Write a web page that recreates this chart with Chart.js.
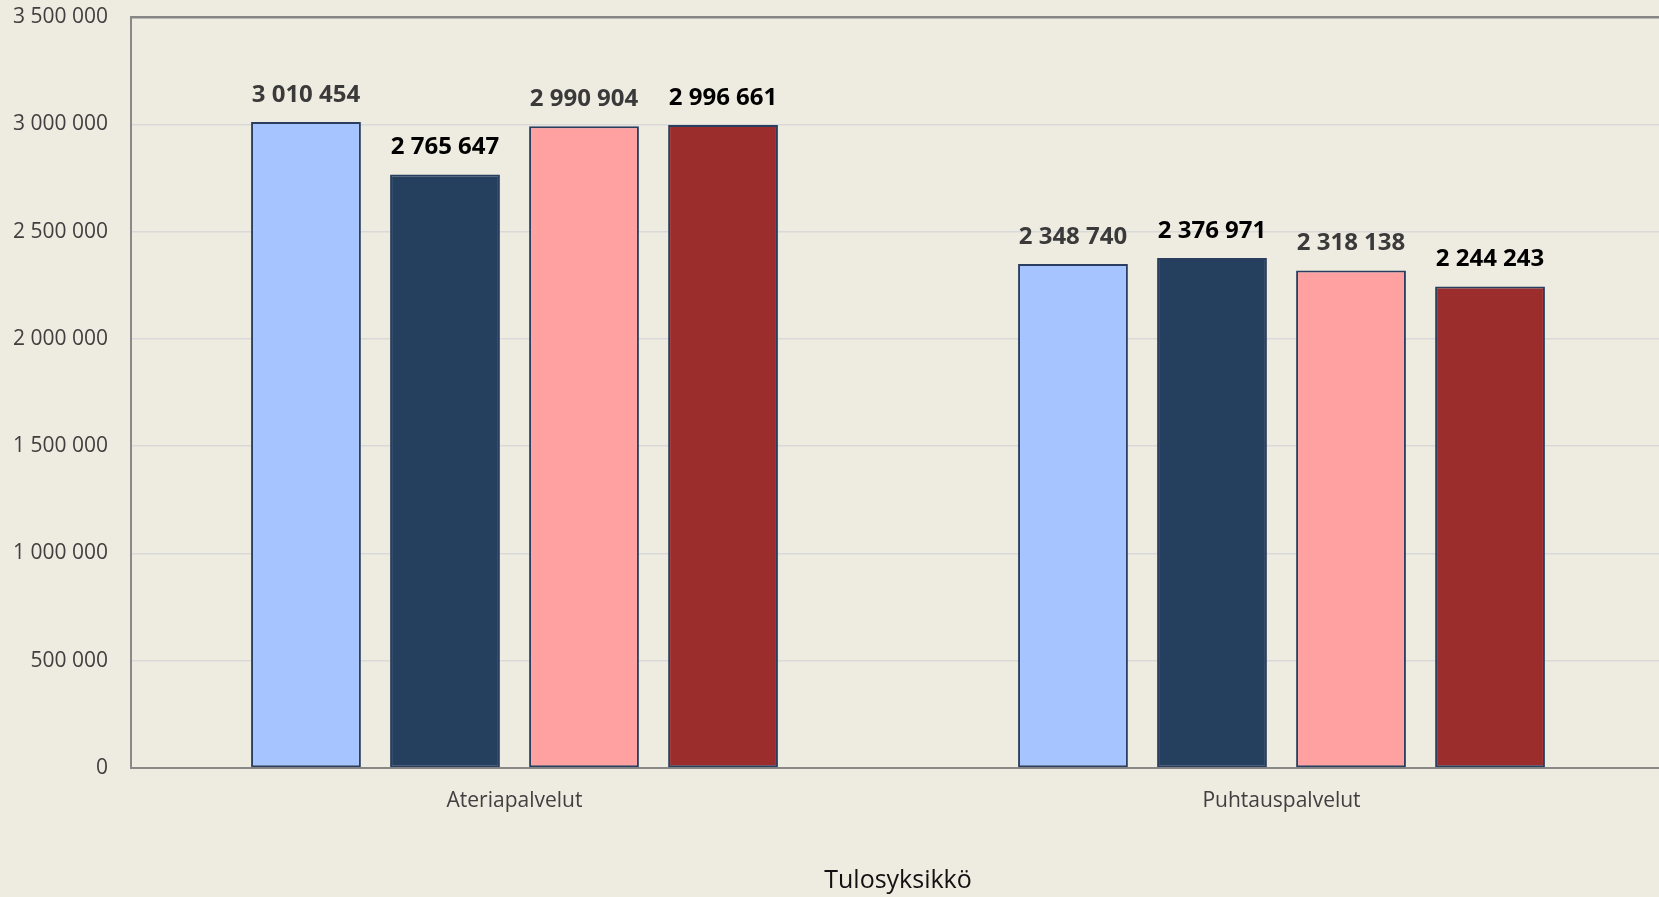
<!DOCTYPE html>
<html>
<head>
<meta charset="utf-8">
<script src="https://cdn.jsdelivr.net/npm/chart.js@4"></script>
<style>
  html, body { margin: 0; padding: 0; background: #eeebe0; overflow: hidden; }
  #wrap { width: 1665px; height: 897px; }
</style>
</head>
<body>
<div id="wrap"><canvas id="chart"></canvas></div>
<script>
const categories = ["Ateriapalvelut", "Puhtauspalvelut"];
const series1 = [3010454, 2348740];
const series2 = [2765647, 2376971];
const series3 = [2990904, 2318138];
const series4 = [2996661, 2244243];
const seriesNames = ["Sarja 1", "Sarja 2", "Sarja 3", "Sarja 4"];
const yTicks = [0, 500000, 1000000, 1500000, 2000000, 2500000, 3000000, 3500000];

const fills = ["#a6c4ff", "#253f5f", "#ffa1a1", "#9b2d2d"];
const labelColors = ["#3a3a3a", "#000000", "#3a3a3a", "#000000"];

// thousands separated by spaces
const fmt = (v) => String(v).replace(/\B(?=(\d{3})+(?!\d))/g, " ");

const barLabels = {
  id: "barLabels",
  afterDatasetsDraw(chart) {
    const ctx = chart.ctx;
    ctx.save();
    ctx.font = "bold 24px 'Open Sans'";
    ctx.textAlign = "center";
    ctx.textBaseline = "middle";
    chart.data.datasets.forEach((ds, i) => {
      chart.getDatasetMeta(i).data.forEach((bar, j) => {
        ctx.fillStyle = labelColors[i];
        ctx.fillText(fmt(ds.data[j]), bar.x, bar.y - 27);
      });
    });
    ctx.restore();
  },
};

const data = [series1, series2, series3, series4];

new Chart(document.getElementById("chart"), {
  type: "bar",
  data: {
    labels: categories,
    datasets: data.map((d, i) => ({
      label: seriesNames[i],
      data: d,
      backgroundColor: fills[i],
      borderColor: "#2a3f5f",
      borderWidth: 2,
      borderSkipped: false,
      categoryPercentage: 0.725,
      barPercentage: 0.79,
    })),
  },
  options: {
    responsive: true,
    maintainAspectRatio: false,
    animation: false,
    layout: { padding: { top: 17 } },
    plugins: { legend: { display: false }, tooltip: { enabled: false } },
    scales: {
      x: {
        grid: { display: false, drawTicks: false },
        border: { color: "#888888", width: 2 },
        ticks: { color: "#404040", font: { family: "Open Sans", size: 21 }, padding: 20 },
        title: {
          display: true,
          text: "Tulosyksikkö",
          color: "#111111",
          font: { family: "Open Sans", size: 25 },
          padding: { top: 0, bottom: 1 },
        },
        afterFit: (scale) => { scale.height = 129; },
      },
      y: {
        min: 0,
        max: 3500000,
        afterBuildTicks: (scale) => { scale.ticks = yTicks.map((v) => ({ value: v })); },
        grid: {
          drawTicks: true,
          tickLength: 23,
          tickColor: "rgba(0,0,0,0)",
          color: (c) => (c.tick && c.tick.value === 3500000 ? "#868686" : "#d9d9d9"),
          lineWidth: (c) => (c.tick && c.tick.value === 3500000 ? 2.5 : 1.5),
        },
        border: { color: "#888888", width: 2 },
        ticks: {
          color: "#404040",
          font: { family: "Open Sans", size: 21 },
          padding: 0,
          callback: (v) => fmt(v),
        },
        afterFit: (scale) => { scale.width = 131; },
      },
    },
  },
  plugins: [barLabels],
});
</script>
</body>
</html>
